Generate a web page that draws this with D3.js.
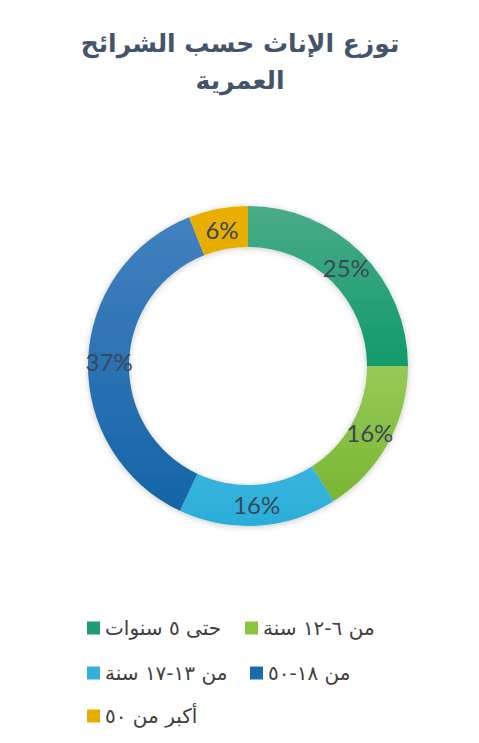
<!DOCTYPE html>
<html lang="ar">
<head>
<meta charset="utf-8">
<script src="https://cdn.jsdelivr.net/npm/d3@7"></script>
<style>
  html, body { margin: 0; padding: 0; background: #ffffff; }
  svg { display: block; }
</style>
</head>
<body>
<svg id="chart" width="479" height="743"></svg>
<script>
// ---- data ----
const titleLines = ["توزع الإناث حسب الشرائح", "العمرية"];
const categories = ["حتى ٥ سنوات", "من ٦-١٢ سنة", "من ١٣-١٧ سنة", "من ١٨-٥٠", "أكبر من ٥٠"];
const values = [25, 16, 16, 37, 6];
const labels = ["25%", "16%", "16%", "37%", "6%"];
const colorsTop = ["#4aab88", "#97ca57", "#38b4de", "#4281c0", "#e9b000"];
const colorsBottom = ["#119a6b", "#79b633", "#2aaed8", "#1464a6", "#e6ad00"];
const legendColors = ["#1f9d70", "#8cc63f", "#33b1dc", "#1a6aae", "#e6ad00"];

const W = 479, H = 743;
const cx = 248, cy = 366, R = 160, r = 119;

const svg = d3.select("#chart");
const defs = svg.append("defs");

const shadow = defs.append("filter").attr("id", "shadow")
  .attr("x", "-20%").attr("y", "-20%").attr("width", "140%").attr("height", "140%");
shadow.append("feDropShadow").attr("dx", 0).attr("dy", 1)
  .attr("stdDeviation", 3).attr("flood-color", "#000").attr("flood-opacity", 0.22);

categories.forEach((c, i) => {
  const g = defs.append("linearGradient").attr("id", "grad" + i)
    .attr("x1", 0).attr("y1", 0).attr("x2", 0).attr("y2", 1);
  g.append("stop").attr("offset", "0%").attr("stop-color", colorsTop[i]);
  g.append("stop").attr("offset", "100%").attr("stop-color", colorsBottom[i]);
});

// title
const title = svg.append("text")
  .attr("text-anchor", "middle")
  .attr("direction", "rtl")
  .attr("font-family", "'DejaVu Sans', sans-serif")
  .attr("font-weight", "bold")
  .attr("font-size", 25)
  .attr("fill", "#44546a");
titleLines.forEach((t, i) => {
  title.append("tspan").attr("x", 240).attr("y", 52 + i * 37).text(t);
});

// donut
const pie = d3.pie().sort(null).value(d => d);
const arcs = pie(values);
const arc = d3.arc().innerRadius(r).outerRadius(R);
const labelArc = d3.arc().innerRadius(139).outerRadius(139);

const g = svg.append("g").attr("transform", `translate(${cx},${cy})`);
g.append("g").attr("filter", "url(#shadow)")
  .selectAll("path").data(arcs).join("path")
  .attr("d", arc)
  .attr("fill", (d, i) => `url(#grad${i})`);

g.selectAll("text.lbl").data(arcs).join("text")
  .attr("class", "lbl")
  .attr("transform", d => `translate(${labelArc.centroid(d)})`)
  .attr("text-anchor", "middle")
  .attr("dominant-baseline", "central")
  .attr("font-family", "Lato, 'Open Sans', sans-serif")
  .attr("font-size", 24)
  .attr("fill", "#3b4759")
  .text((d, i) => labels[i]);

// legend
const legendPos = [
  { sx: 87, y: 628 },
  { sx: 245, y: 628 },
  { sx: 87, y: 673 },
  { sx: 250, y: 673 },
  { sx: 87, y: 716 }
];
const legend = svg.append("g");
categories.forEach((c, i) => {
  const p = legendPos[i];
  legend.append("rect")
    .attr("x", p.sx).attr("y", p.y - 6.5)
    .attr("width", 13).attr("height", 13)
    .attr("fill", legendColors[i]);
  legend.append("text")
    .attr("x", p.sx + 18).attr("y", p.y)
    .attr("dominant-baseline", "central")
    .attr("font-family", "'DejaVu Sans', sans-serif")
    .attr("font-size", 20)
    .attr("fill", "#404040")
    .attr("direction", "rtl")
    .attr("text-anchor", "end")
    .text(c);
});
</script>
</body>
</html>
